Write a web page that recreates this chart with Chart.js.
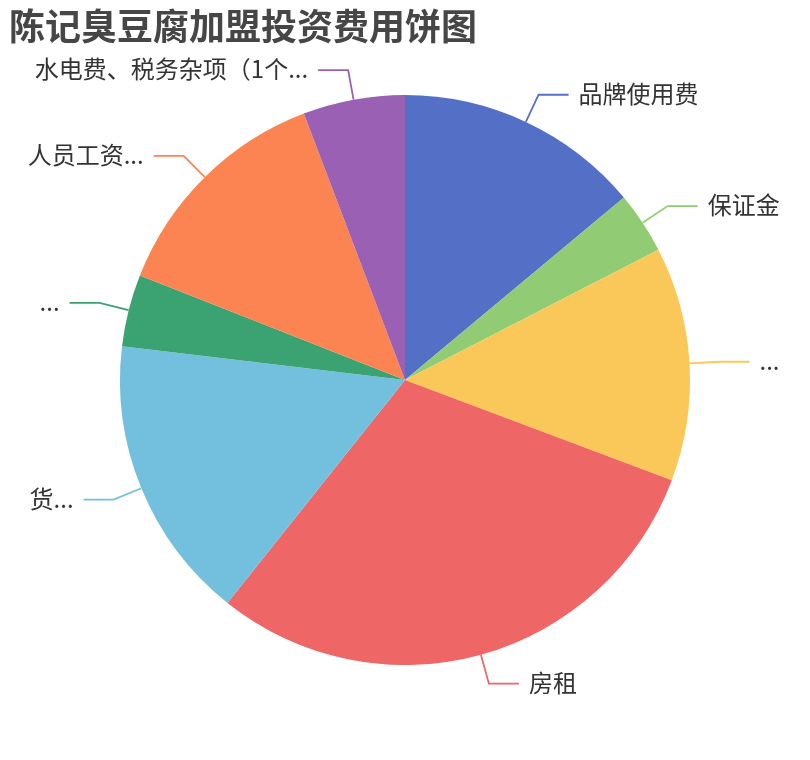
<!DOCTYPE html>
<html>
<head>
<meta charset="utf-8">
<title>陈记臭豆腐加盟投资费用饼图</title>
<script src="https://cdn.jsdelivr.net/npm/chart.js@4/dist/chart.umd.min.js"></script>
<style>
  html, body { margin: 0; padding: 0; background: #fff; }
  #pie { display: block; }
</style>
</head>
<body>
<canvas id="pie" width="810" height="760"></canvas>
<script>
const chartTitle = "陈记臭豆腐加盟投资费用饼图";
// labels as they show up (truncated ones stay truncated)
const itemNames = ["品牌使用费", "保证金", "...", "房租", "货...", "...", "人员工资...", "水电费、税务杂项（1个..."];
// cost per item (万元)
const itemCosts = [5.02, 1.26, 4.78, 10.8, 5.83, 1.47, 4.77, 2.08];
const sliceColors = ["#5470c6", "#91cc75", "#fac858", "#ee6666", "#73c0de", "#3ba272", "#fc8452", "#9a60b4"];

const labelFont = '24px "Noto Sans CJK SC", "Noto Sans", sans-serif';
const titleFont = 'bold 36px "Noto Sans CJK SC", "Noto Sans", sans-serif';

const pieLabels = {
  id: "pieLabels",
  afterDatasetsDraw(chart) {
    const c = chart.ctx;
    const meta = chart.getDatasetMeta(0);

    c.save();
    c.font = titleFont;
    c.fillStyle = "#464646";
    c.textAlign = "left";
    c.textBaseline = "middle";
    c.fillText(chartTitle, 9, 26);

    c.font = labelFont;
    meta.data.forEach((arc, i) => {
      const mid = (arc.startAngle + arc.endAngle) / 2;
      const r = arc.outerRadius;
      const cos = Math.cos(mid), sin = Math.sin(mid);
      const x0 = arc.x + cos * r, y0 = arc.y + sin * r;
      const x1 = arc.x + cos * (r + 30), y1 = arc.y + sin * (r + 30);
      const right = cos >= 0;
      const x2 = x1 + (right ? 30 : -30);

      c.strokeStyle = sliceColors[i];
      c.lineWidth = 1.8;
      c.beginPath();
      c.moveTo(x0, y0);
      c.lineTo(x1, y1);
      c.lineTo(x2, y1);
      c.stroke();

      c.fillStyle = "#333";
      c.textAlign = right ? "left" : "right";
      c.textBaseline = "middle";
      c.fillText(itemNames[i], x2 + (right ? 10 : -10), y1 - 1);
    });
    c.restore();
  }
};

new Chart(document.getElementById("pie"), {
  type: "pie",
  data: {
    labels: itemNames,
    datasets: [{
      data: itemCosts,
      backgroundColor: sliceColors,
      borderWidth: 0,
      hoverOffset: 0,
      offset: 0
    }]
  },
  options: {
    responsive: false,
    animation: false,
    layout: { padding: { left: 120, right: 120, top: 95, bottom: 95 } },
    plugins: {
      legend: { display: false },
      tooltip: { enabled: false },
      title: { display: false }
    }
  },
  plugins: [pieLabels]
});
</script>
</body>
</html>
